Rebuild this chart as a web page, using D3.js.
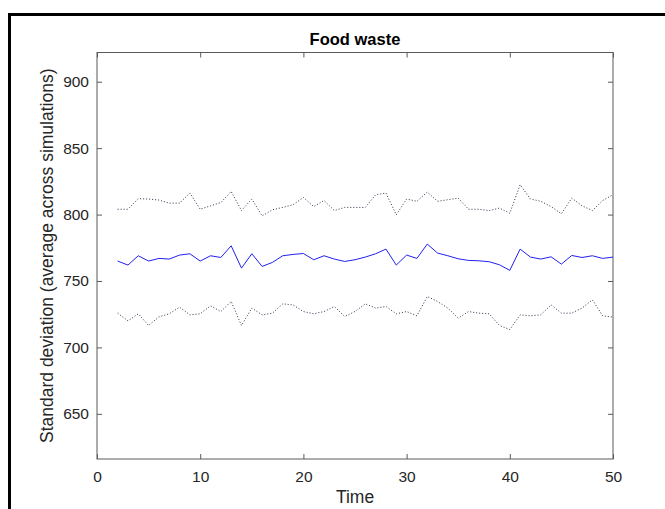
<!DOCTYPE html>
<html>
<head>
<meta charset="utf-8">
<script src="https://d3js.org/d3.v7.min.js"></script>
<style>
  body { margin: 0; background: #fff; }
  svg { display: block; font-family: "Liberation Sans", Arial, Helvetica, sans-serif; }
</style>
</head>
<body>
<div id="chart"></div>
<script>
//Data
var times = [2,3,4,5,6,7,8,9,10,11,12,13,14,15,16,17,18,19,20,21,22,23,24,25,26,
             27,28,29,30,31,32,33,34,35,36,37,38,39,40,41,42,43,44,45,46,47,48,49,50];

var meanSD = [765,762,769,765,767,766.5,769.5,770.5,765,769,767.7,776.5,759.7,770.5,761,764,
              769,770,770.7,766,769,766.5,764.7,766,768,770.5,774,762,769.5,767,777.8,771,
              769,766.7,765.5,765.2,764.5,762.2,758,774,768,766.5,768.2,762.7,769.2,767.7,769,767,768];

var upperSD = [804,804,812,811.7,810.9,808.6,808.6,816.2,804,806.6,809,817.4,803,811.7,799,803.6,
               805.4,807.4,812.9,806,810.6,803,805.4,805.4,805.4,814.9,816.2,799.8,811.7,810,816.9,810,
               811.2,812.4,804,804,803,804.9,801,822.4,811.7,810,806,800.6,812.4,806.6,803,810.6,814.9];

var lowerSD = [725.8,720,725.3,716.5,723,725.3,730.3,724.5,725.3,731.3,727,734.6,716.5,729.6,724.5,725.8,
               732.8,732,727,725.3,727,730.8,723.3,727,732.8,729.6,730.8,725.3,727,723.8,738.3,734.6,
               729.6,722,727,725.8,725.3,716.5,713.5,724.5,723.8,724.5,732,725.8,725.8,729.6,735.8,723.8,722.8];

var xTicks = [0,10,20,30,40,50];
var yTicks = [650,700,750,800,850,900];

var w = 665, h = 509;
var plotLeft = 97, plotRight = 613, plotTop = 52.5, plotBottom = 459;

var svg = d3.select("#chart")
  .append("svg")
  .attr("width", w)
  .attr("height", h);

//outer frame (cut off at right and bottom)
svg.append("rect")
  .attr("x", 9.5)
  .attr("y", 14.5)
  .attr("width", w + 10)
  .attr("height", h + 10)
  .attr("fill", "none")
  .attr("stroke", "#000")
  .attr("stroke-width", 3);

var x = d3.scaleLinear().domain([0, 50]).range([plotLeft, plotRight]);
var y = d3.scaleLinear().domain([616, 922]).range([plotBottom, plotTop]);

var axisColor = "#5a5a5a";
var textColor = "#262626";

//box around the plot
svg.append("rect")
  .attr("x", plotLeft)
  .attr("y", plotTop)
  .attr("width", plotRight - plotLeft)
  .attr("height", plotBottom - plotTop)
  .attr("fill", "none")
  .attr("stroke", axisColor)
  .attr("stroke-width", 1);

//bottom axis, ticks point inward
var xAxis = svg.append("g")
  .attr("transform", "translate(0," + plotBottom + ")")
  .call(d3.axisBottom(x).tickValues(xTicks).tickSizeInner(-5).tickSizeOuter(0).tickPadding(12));
//top axis ticks
var xAxisTop = svg.append("g")
  .attr("transform", "translate(0," + plotTop + ")")
  .call(d3.axisTop(x).tickValues(xTicks).tickSizeInner(-5).tickSizeOuter(0).tickFormat(""));
//left axis
var yAxis = svg.append("g")
  .attr("transform", "translate(" + plotLeft + ",0)")
  .call(d3.axisLeft(y).tickValues(yTicks).tickSizeInner(-5).tickSizeOuter(0).tickPadding(8));
//right axis ticks
var yAxisRight = svg.append("g")
  .attr("transform", "translate(" + plotRight + ",0)")
  .call(d3.axisRight(y).tickValues(yTicks).tickSizeInner(-5).tickSizeOuter(0).tickFormat(""));

[xAxis, xAxisTop, yAxis, yAxisRight].forEach(function(g) {
  g.select(".domain").remove();
  g.selectAll(".tick line").attr("stroke", axisColor);
  g.selectAll(".tick text")
    .attr("fill", textColor)
    .style("font-size", "15.5px")
    .style("font-family", "'Liberation Sans', Arial, sans-serif");
});

//lines
var line = function(vals) {
  return d3.line()
    .x(function(d, i) { return x(times[i]); })
    .y(function(d) { return y(d); })(vals);
};

svg.append("path")
  .attr("d", line(upperSD))
  .attr("fill", "none")
  .attr("stroke", "#2e2e4a")
  .attr("stroke-width", 1)
  .attr("stroke-dasharray", "1,2");

svg.append("path")
  .attr("d", line(lowerSD))
  .attr("fill", "none")
  .attr("stroke", "#2e2e4a")
  .attr("stroke-width", 1)
  .attr("stroke-dasharray", "1,2");

svg.append("path")
  .attr("d", line(meanSD))
  .attr("fill", "none")
  .attr("stroke", "#2020f0")
  .attr("stroke-width", 1);

//Title
svg.append("text")
  .attr("x", (plotLeft + plotRight) / 2)
  .attr("y", 45)
  .attr("text-anchor", "middle")
  .attr("fill", "#000")
  .style("font-size", "16.5px")
  .style("font-weight", "bold")
  .text("Food waste");

//x label
svg.append("text")
  .attr("x", (plotLeft + plotRight) / 2)
  .attr("y", 503)
  .attr("text-anchor", "middle")
  .attr("fill", textColor)
  .style("font-size", "17.5px")
  .text("Time");

//y label
svg.append("text")
  .attr("transform", "translate(53," + ((plotTop + plotBottom) / 2) + ") rotate(-90)")
  .attr("text-anchor", "middle")
  .attr("fill", textColor)
  .style("font-size", "17.5px")
  .text("Standard deviation (average across simulations)");
</script>
</body>
</html>
